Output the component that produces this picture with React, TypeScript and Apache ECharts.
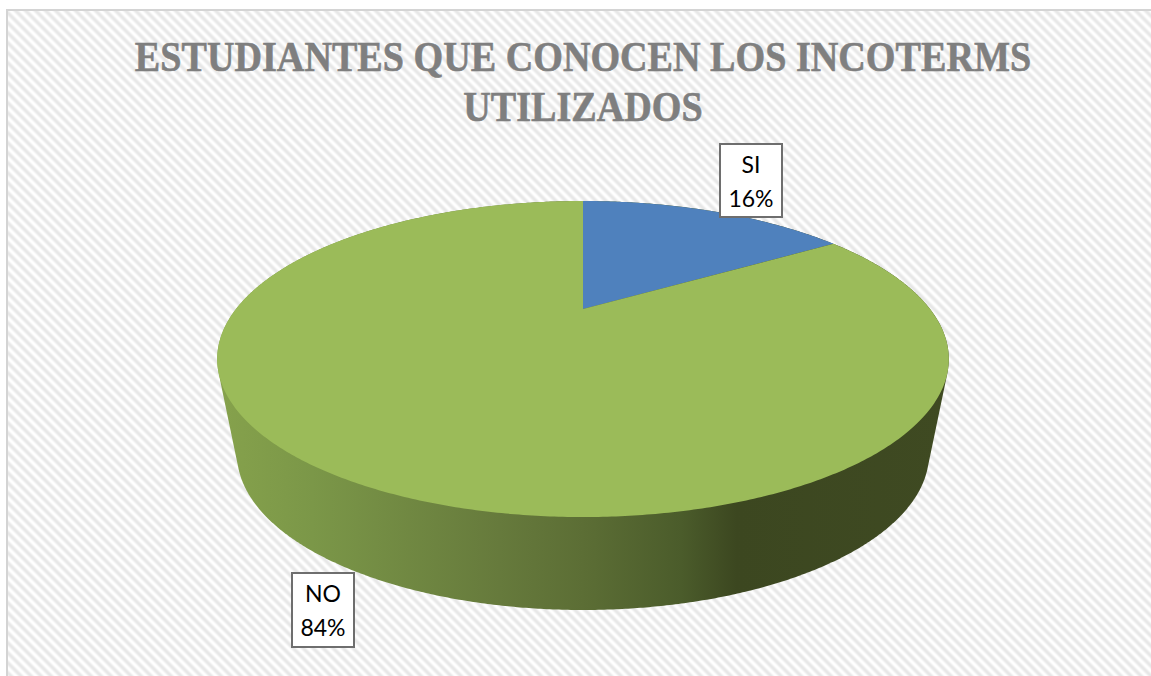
import React, { useEffect, useRef } from "react";
import * as echarts from "echarts";

const categories = ["SI", "NO"];
const seriesValues = [16, 84];
const sliceColors = ["#4f81bd", "#9bbb59"];
const titleLines = ["ESTUDIANTES QUE CONOCEN LOS INCOTERMS", "UTILIZADOS"];

const W = 1151;
const H = 676;
const CX = 583;
const APEX_Y = 309;
// perspective model of the top disc
const K = 0.3165;
const A = 347;
const B = 142.2;
const project = (theta: number) => {
  const u = Math.sin(theta);
  const v = Math.cos(theta);
  const w = 1 + K * v;
  return [CX + (A * u) / w, APEX_Y - (B * v) / w];
};
const BOTTOM = { cy: 454, rx: 346, ry: 156 };

function stripes() {
  const c = document.createElement("canvas");
  const n = 10;
  c.width = n;
  c.height = n;
  const g = c.getContext("2d")!;
  for (let y = 0; y < n; y++) {
    for (let x = 0; x < n; x++) {
      const t = (Math.cos((2 * Math.PI * (x - y)) / n) + 1) / 2;
      const v = Math.round(231 + t * 24);
      g.fillStyle = `rgb(${v},${v},${v})`;
      g.fillRect(x, y, 1, 1);
    }
  }
  return c;
}

function hull(pts: number[][]) {
  const s = [...pts].sort((a, b) => a[0] - b[0] || a[1] - b[1]);
  const cross = (o: number[], a: number[], b: number[]) =>
    (a[0] - o[0]) * (b[1] - o[1]) - (a[1] - o[1]) * (b[0] - o[0]);
  const half = (list: number[][]) => {
    const out: number[][] = [];
    for (const p of list) {
      while (out.length > 1 && cross(out[out.length - 2], out[out.length - 1], p) <= 0) out.pop();
      out.push(p);
    }
    out.pop();
    return out;
  };
  return [...half(s), ...half([...s].reverse())];
}

const labelBoxes: Record<string, { x: number; y: number; w: number; h: number }> = {
  SI: { x: 720, y: 144, w: 62, h: 73 },
  NO: { x: 292, y: 573, w: 62, h: 74 },
};

export default function App() {
  const ref = useRef<HTMLDivElement>(null);
  useEffect(() => {
    document.body.style.margin = "0";
    const chart = echarts.init(ref.current!, undefined, { renderer: "svg" });
    const total = seriesValues.reduce((a, b) => a + b, 0);
    const topOutline: number[][] = [];
    for (let i = 0; i < 720; i++) topOutline.push(project((i * Math.PI) / 360));
    const bottomOutline: number[][] = [];
    for (let i = 0; i < 720; i++) {
      const t = (i * Math.PI) / 360;
      bottomOutline.push([CX + BOTTOM.rx * Math.cos(t), BOTTOM.cy + BOTTOM.ry * Math.sin(t)]);
    }
    const wall = hull([...topOutline, ...bottomOutline]);

    chart.setOption({
      animation: false,
      backgroundColor: "#ffffff",
      graphic: [
        {
          type: "rect",
          z: -1,
          silent: true,
          shape: { x: 7, y: 10, width: W, height: H },
          style: {
            fill: { image: stripes(), repeat: "repeat" },
            stroke: "#d4d4d4",
            lineWidth: 2,
          },
        },
        {
          type: "text",
          x: CX,
          y: 32,
          scaleX: 0.908,
          z: 10,
          silent: true,
          style: {
            text: titleLines.join("\n"),
            align: "center",
            verticalAlign: "top",
            fontFamily: "Liberation Serif",
            fontWeight: "bold",
            fontSize: 42,
            lineHeight: 50,
            fill: "#7f7f7f",
            stroke: "#7f7f7f",
            lineWidth: 0.6,
          },
        },
      ],
      xAxis: { show: false, min: 0, max: 1 },
      yAxis: { show: false, min: 0, max: 1 },
      grid: { left: 0, right: 0, top: 0, bottom: 0 },
      series: [
        {
          type: "custom",
          coordinateSystem: "none",
          data: categories.map((name, i) => ({ name, value: seriesValues[i] })),
          renderItem: (params: any, api: any) => {
            const i = params.dataIndex;
            const value = api.value(0);
            const before = seriesValues.slice(0, i).reduce((a, b) => a + b, 0);
            const a0 = (before / total) * 2 * Math.PI;
            const a1 = ((before + value) / total) * 2 * Math.PI;
            const steps = Math.max(2, Math.round(((a1 - a0) * 180) / Math.PI) * 2);
            const pts: number[][] = [[CX, APEX_Y]];
            for (let s = 0; s <= steps; s++) pts.push(project(a0 + ((a1 - a0) * s) / steps));
            const name = categories[i];
            const box = labelBoxes[name];
            const children: any[] = [];
            if (name === "NO") {
              children.push({
                type: "polygon",
                shape: { points: wall },
                style: {
                  fill: new echarts.graphic.LinearGradient(0, 0, 1, 0, [
                    { offset: 0, color: "#86a24c" },
                    { offset: 0.13, color: "#7b9748" },
                    { offset: 0.386, color: "#667a3c" },
                    { offset: 0.5, color: "#5c6e35" },
                    { offset: 0.634, color: "#4b5c2b" },
                    { offset: 0.71, color: "#3c4720" },
                    { offset: 1, color: "#3f4a22" },
                  ]),
                },
              });
            }
            children.push({
              type: "polygon",
              z2: 5,
              shape: { points: pts },
              style: { fill: sliceColors[i] },
            });
            children.push({
              type: "rect",
              z2: 10,
              shape: { x: box.x, y: box.y, width: box.w, height: box.h },
              style: { fill: "#ffffff", stroke: "#6e6e6e", lineWidth: 2 },
            });
            children.push({
              type: "text",
              z2: 11,
              style: {
                x: box.x + box.w / 2,
                y: box.y + box.h / 2,
                text: `${name}\n${Math.round((value / total) * 100)}%`,
                align: "center",
                verticalAlign: "middle",
                fontFamily: "Lato",
                fontSize: 23,
                lineHeight: 34,
                fill: "#000000",
              },
            });
            return { type: "group", children };
          },
        },
      ],
    });
    return () => chart.dispose();
  }, []);
  return <div ref={ref} style={{ width: W, height: H }} />;
}
